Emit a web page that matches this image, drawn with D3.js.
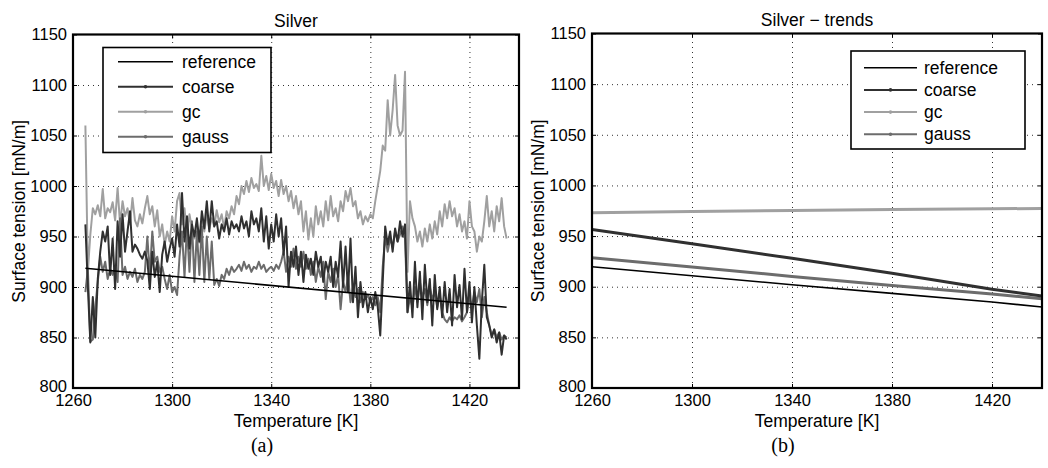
<!DOCTYPE html>
<html>
<head>
<meta charset="utf-8">
<script src="https://cdn.jsdelivr.net/npm/d3@7/dist/d3.min.js"></script>
<style>
  body { margin: 0; background: #fff; }
  svg { display: block; }
  text { font-family: "Liberation Sans", Arial, sans-serif; fill: #000; }
</style>
</head>
<body>
<svg id="chart" width="1048" height="468"></svg>
<script>
// --- data ---
var xTicks = [1260, 1300, 1340, 1380, 1420];
var yTicks = [800, 850, 900, 950, 1000, 1050, 1100, 1150];
var seriesNames = ["reference", "coarse", "gc", "gauss"];

// measured curves, one sample per kelvin from 1265 K to 1435 K
var measTemp = d3.range(1265, 1436, 1);

var gcValues = [1060, 916, 952, 978, 972, 981, 970, 997, 968, 978, 974, 984, 966, 998, 962, 985, 970, 978, 962, 988,
  966, 960, 972, 963, 978, 990, 972, 980, 960, 976, 950, 962, 942, 955, 945, 970, 955, 985, 993, 962,
  978, 950, 972, 958, 948, 962, 944, 965, 955, 972, 958, 968, 960, 976, 964, 972, 958, 975, 968, 980,
  972, 990, 982, 1000, 992, 1005, 994, 1008, 998, 1002, 995, 1030, 1000, 1010, 996, 1012, 998, 1005, 990, 1006,
  992, 1000, 985, 995, 978, 990, 972, 985, 955, 975, 947, 968, 950, 980, 962, 975, 960, 985, 966, 990,
  970, 978, 965, 985, 975, 995, 985, 998, 980, 985, 968, 975, 962, 970, 965, 972, 968, 985, 1000, 1015,
  1040, 1035, 1085, 1050, 1075, 1110, 1060, 1050, 1055, 1113, 915, 985, 968, 960, 945, 955, 940, 958, 945, 962,
  948, 965, 952, 975, 960, 982, 968, 985, 970, 978, 960, 972, 955, 965, 948, 985, 960, 955, 935, 950,
  945, 965, 990, 960, 975, 955, 980, 965, 988, 960, 948];

var coarseValues = [962, 900, 845, 890, 850, 908, 935, 955, 945, 960, 912, 948, 898, 965, 930, 972, 935, 955, 975, 935,
  942, 938, 932, 928, 935, 926, 898, 935, 910, 925, 895, 932, 945, 925, 938, 948, 930, 962, 940, 993,
  945, 970, 938, 962, 950, 968, 945, 975, 958, 985, 955, 985, 960, 965, 948, 962, 955, 968, 952, 965,
  958, 962, 955, 970, 958, 965, 950, 975, 962, 968, 955, 978, 945, 970, 938, 962, 945, 972, 950, 968,
  932, 960, 900, 935, 920, 940, 912, 935, 905, 932, 918, 928, 912, 935, 920, 930, 905, 925, 915, 930,
  900, 925, 910, 945, 900, 940, 895, 948, 885, 920, 870, 905, 880, 895, 875, 890, 878, 895, 880, 852,
  905, 960, 942, 955, 935, 958, 945, 965, 950, 962, 875, 905, 870, 925, 880, 915, 868, 922, 885, 908,
  862, 912, 878, 900, 870, 905, 875, 898, 862, 912, 880, 902, 868, 918, 875, 905, 865, 900, 862, 829,
  885, 922, 870, 862, 850, 858, 845, 855, 833, 852, 848];

var gaussValues = [895, 918, 846, 848, 880, 905, 930, 915, 925, 908, 918, 912, 920, 905, 968, 912, 920, 908, 915, 910,
  918, 905, 912, 908, 915, 950, 912, 955, 925, 930, 915, 920, 908, 898, 912, 895, 900, 892, 930, 955,
  910, 960, 915, 965, 905, 955, 912, 960, 905, 950, 908, 945, 902, 908, 901, 912, 908, 918, 912, 920,
  915, 918, 922, 916, 925, 918, 922, 915, 920, 918, 925, 918, 922, 915, 918, 920, 916, 922, 918, 925,
  935, 915, 930, 920, 938, 918, 930, 920, 935, 918, 928, 912, 925, 905, 920, 910, 925, 888, 915, 905,
  918, 900, 912, 878, 905, 895, 910, 885, 900, 890, 898, 885, 895, 888, 892, 885, 890, 882, 890, 875,
  920, 950, 935, 948, 940, 955, 945, 952, 960, 948, 875, 890, 880, 900, 885, 905, 890, 898, 882, 900,
  888, 895, 880, 892, 875, 868, 865, 870, 866, 870, 868, 872, 866, 870, 875, 890, 880, 895, 885, 898,
  870, 890, 875, 862, 852, 858, 850, 855, 848, 852, 850];

var refTemp = [1265, 1435];
var refValues = [918.5, 880];

// fitted trends (panel b)
var trendTemp = [1260, 1300, 1340, 1380, 1420, 1440];
var trendRef = [919.7, 910.8, 902, 893.4, 884.9, 880];
var trendCoarse = [956.6, 942.4, 928, 913.2, 897.4, 890.8];
var trendGc = [973, 974.2, 975.3, 976.2, 976.9, 977.3];
var trendGauss = [928.6, 919.4, 910.2, 901.3, 892.8, 888.2];

var colors = { reference: "#000", coarse: "#303030", gc: "#a0a0a0", gauss: "#6c6c6c" };

var svg = d3.select("#chart");

function drawPanel(id, left, right, top, bottom, title, tag, tagX, series, legend) {
  var g = svg.append("g").attr("id", id);

  var x = d3.scaleLinear().domain([1260, 1440]).range([left, right]);
  var y = d3.scaleLinear().domain([800, 1150]).range([bottom, top]);

  g.append("clipPath").attr("id", id + "-clip")
    .append("rect")
    .attr("x", left).attr("y", top)
    .attr("width", right - left).attr("height", bottom - top);

  // dotted grid
  g.append("g")
    .attr("transform", "translate(0," + bottom + ")")
    .call(d3.axisBottom(x).tickValues(xTicks.slice(1)).tickSize(-(bottom - top)).tickFormat(""))
    .call(function (s) { s.select(".domain").remove(); })
    .selectAll("line")
    .attr("stroke", "#333").attr("stroke-dasharray", "1,4");

  g.append("g")
    .attr("transform", "translate(" + left + ",0)")
    .call(d3.axisLeft(y).tickValues(yTicks.slice(1, -1)).tickSize(-(right - left)).tickFormat(""))
    .call(function (s) { s.select(".domain").remove(); })
    .selectAll("line")
    .attr("stroke", "#333").attr("stroke-dasharray", "1,4");

  // axes with ticks pointing inward
  var xAxis = g.append("g")
    .attr("transform", "translate(0," + bottom + ")")
    .call(d3.axisBottom(x).tickValues(xTicks).tickSize(-4).tickPadding(6).tickFormat(d3.format("d")));
  var yAxis = g.append("g")
    .attr("transform", "translate(" + left + ",0)")
    .call(d3.axisLeft(y).tickValues(yTicks).tickSize(-4).tickPadding(6).tickFormat(d3.format("d")));

  [xAxis, yAxis].forEach(function (a) {
    a.select(".domain").remove();
    a.selectAll("text")
      .style("font-family", "'Liberation Sans', Arial, sans-serif")
      .style("font-size", "16.5px")
      .attr("fill", "#000");
    a.selectAll("line").attr("stroke", "#000");
  });
  xAxis.selectAll("text").attr("dy", "0.71em");
  yAxis.selectAll("text").attr("dy", function (d) { return d == 800 ? "0.2em" : "0.32em"; });

  g.append("g")
    .attr("transform", "translate(0," + top + ")")
    .call(d3.axisTop(x).tickValues(xTicks).tickSize(-4).tickFormat(""))
    .call(function (s) { s.select(".domain").remove(); });
  g.append("g")
    .attr("transform", "translate(" + right + ",0)")
    .call(d3.axisRight(y).tickValues(yTicks).tickSize(-4).tickFormat(""))
    .call(function (s) { s.select(".domain").remove(); });

  // data lines
  var plot = g.append("g").attr("clip-path", "url(#" + id + "-clip)");
  series.forEach(function (s) {
    var pts = s.temp.map(function (t, i) { return [t, s.values[i]]; });
    var line = d3.line().x(function (d) { return x(d[0]); }).y(function (d) { return y(d[1]); });
    plot.append("path")
      .datum(pts)
      .attr("d", line)
      .attr("fill", "none")
      .attr("stroke", colors[s.name])
      .attr("stroke-width", s.width)
      .attr("stroke-linejoin", "round");
  });

  // frame
  g.append("rect")
    .attr("x", left).attr("y", top)
    .attr("width", right - left).attr("height", bottom - top)
    .attr("fill", "none").attr("stroke", "#000").attr("stroke-width", 2.2);

  // legend
  var lg = g.append("g");
  lg.append("rect")
    .attr("x", legend.x).attr("y", legend.y)
    .attr("width", legend.w).attr("height", legend.h)
    .attr("fill", "#fff").attr("stroke", "#000").attr("stroke-width", 1.6);
  seriesNames.forEach(function (name, i) {
    var cy = legend.rowY + i * legend.rowGap;
    lg.append("line")
      .attr("x1", legend.lineX1).attr("x2", legend.lineX2)
      .attr("y1", cy).attr("y2", cy)
      .attr("stroke", colors[name])
      .attr("stroke-width", name == "reference" ? 1.6 : 2);
    if (name != "reference") {
      lg.append("circle")
        .attr("cx", (legend.lineX1 + legend.lineX2) / 2).attr("cy", cy).attr("r", 1.8)
        .attr("fill", colors[name]);
    }
    lg.append("text")
      .attr("x", legend.textX).attr("y", cy)
      .attr("dy", "0.35em")
      .style("font-size", "17.5px")
      .text(name);
  });

  // labels
  var cx = (left + right) / 2;
  g.append("text")
    .attr("x", cx).attr("y", top - 8)
    .attr("text-anchor", "middle")
    .style("font-size", "17.5px")
    .text(title);
  g.append("text")
    .attr("x", cx).attr("y", 427)
    .attr("text-anchor", "middle")
    .style("font-size", "17.5px")
    .text("Temperature [K]");
  g.append("text")
    .attr("transform", "translate(" + (left - 48) + "," + ((top + bottom) / 2) + ") rotate(-90)")
    .attr("text-anchor", "middle")
    .style("font-size", "17.5px")
    .text("Surface tension [mN/m]");
  g.append("text")
    .attr("x", tagX).attr("y", 452)
    .attr("text-anchor", "middle")
    .style("font-family", "'Liberation Serif', 'Times New Roman', serif")
    .style("font-size", "20px")
    .text(tag);
}

drawPanel("panelA", 73, 519, 34.5, 388, "Silver", "(a)", 262, [
  { name: "gc", temp: measTemp, values: gcValues, width: 2 },
  { name: "gauss", temp: measTemp, values: gaussValues, width: 2 },
  { name: "coarse", temp: measTemp, values: coarseValues, width: 2 },
  { name: "reference", temp: refTemp, values: refValues, width: 1.6 }
], { x: 103, y: 47.5, w: 168, h: 105, lineX1: 118, lineX2: 173, textX: 182, rowY: 61.7, rowGap: 25 });

drawPanel("panelB", 592, 1042, 33.5, 388, "Silver \u2212 trends", "(b)", 783, [
  { name: "reference", temp: trendTemp, values: trendRef, width: 1.6 },
  { name: "gauss", temp: trendTemp, values: trendGauss, width: 3 },
  { name: "coarse", temp: trendTemp, values: trendCoarse, width: 3 },
  { name: "gc", temp: trendTemp, values: trendGc, width: 3 }
], { x: 851, y: 51, w: 174, h: 98, lineX1: 864, lineX2: 917, textX: 924, rowY: 67.7, rowGap: 22.2 });
</script>
</body>
</html>
